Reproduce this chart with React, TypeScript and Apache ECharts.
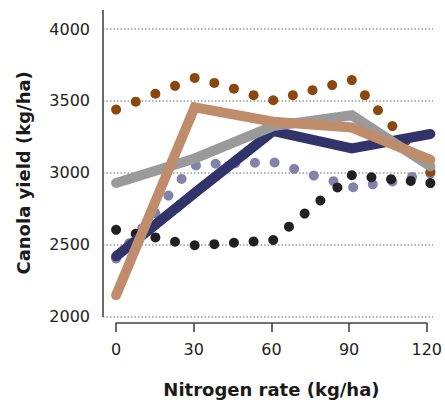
import React, { useEffect, useRef } from "react";
import * as echarts from "echarts";

// Solid lines (measured)
const lineX = [0, 30, 60, 90, 120];
const navyY = [2420, 2860, 3290, 3170, 3270];
const greyY = [2930, 3100, 3325, 3400, 3045];
const tanY = [2150, 3455, 3355, 3315, 3090];

// Dotted curves (dots as read)
const brownX = [0, 7.5, 15, 22.5, 30, 37.5, 45, 52.5, 60, 67.5, 75, 82.5, 90, 95, 100, 105.5, 110.5, 115.5, 120];
const brownY = [3440, 3495, 3550, 3605, 3660, 3625, 3585, 3540, 3505, 3540, 3575, 3610, 3645, 3540, 3435, 3325, 3220, 3105, 3008];

const lavX = [0, 5, 10, 15, 20, 25, 30.5, 38, 45.5, 53, 60.5, 68, 75.5, 83, 90.5, 98, 105.5, 113, 120];
const lavY = [2405, 2510, 2615, 2720, 2842, 2958, 3051, 3063, 3067, 3070, 3072, 3028, 2981, 2942, 2900, 2920, 2940, 2972, 2995];

const blackX = [0, 7.5, 15, 22.5, 30, 37.5, 45, 52.5, 60, 66, 72, 78, 84.5, 90, 97.5, 105, 112.5, 120];
const blackY = [2604, 2576, 2551, 2521, 2497, 2504, 2514, 2523, 2533, 2626, 2717, 2808, 2898, 2984, 2969, 2956, 2944, 2929];

const xTicks = [0, 30, 60, 90, 120];
const yTicks = [2000, 2500, 3000, 3500, 4000];

const xTitle = "Nitrogen rate (kg/ha)";
const yTitle = "Canola yield (kg/ha)";

const FONT = "DejaVu Sans";

const zip = (xs: number[], ys: number[]) => xs.map((x, i) => [x, ys[i]]);

export default function App() {
  const ref = useRef<HTMLDivElement>(null);
  useEffect(() => {
    if (!ref.current) return;
    const chart = echarts.init(ref.current, null, { renderer: "svg" });
    const lineSeries = (name: string, ys: number[], color: string) => ({
      name,
      type: "line",
      xAxisIndex: 0,
      yAxisIndex: 0,
      data: zip(lineX, ys),
      symbol: "none",
      lineStyle: { color, width: 10, cap: "round", join: "miter" },
      silent: true,
    });
    const dotSeries = (name: string, xs: number[], ys: number[], color: string) => ({
      name,
      type: "scatter",
      xAxisIndex: 0,
      yAxisIndex: 0,
      data: zip(xs, ys),
      symbol: "circle",
      symbolSize: 10,
      itemStyle: { color, opacity: 1 },
      silent: true,
    });
    chart.setOption({
      animation: false,
      backgroundColor: "#ffffff",
      grid: [
        { left: 103, right: 12, top: 29, bottom: 86.3, containLabel: false },
        { left: 116.1, right: 14.6, top: 29, bottom: 86.3, containLabel: false },
      ],
      xAxis: [
        { type: "value", gridIndex: 0, min: -5, max: 121, show: false },
        {
          type: "value",
          gridIndex: 1,
          min: xTicks[0],
          max: xTicks[xTicks.length - 1],
          interval: 30,
          offset: 9.3,
          position: "bottom",
          axisLine: { show: true, lineStyle: { color: "#444", width: 1.6 } },
          axisTick: { show: true, inside: false, length: 9, lineStyle: { color: "#444", width: 1.6 } },
          splitLine: { show: false },
          axisLabel: {
            fontFamily: FONT,
            fontSize: 16,
            color: "#222",
            margin: 18,
            formatter: (v: number) => String(v),
          },
          name: xTitle,
          nameLocation: "middle",
          nameGap: 57,
          nameTextStyle: { fontFamily: FONT, fontSize: 18, fontWeight: "bold", color: "#1a1a1a" },
        },
      ],
      yAxis: [
        {
          type: "value",
          gridIndex: 0,
          min: yTicks[0],
          max: yTicks[yTicks.length - 1],
          interval: 500,
          axisLine: { show: false },
          axisTick: { show: false },
          splitLine: { show: true, lineStyle: { color: "#999", width: 1.5, type: [1.5, 2] } },
          axisLabel: {
            fontFamily: FONT,
            fontSize: 16,
            color: "#222",
            margin: 13,
            formatter: (v: number) => String(v),
          },
          name: yTitle,
          nameLocation: "middle",
          nameGap: 71,
          nameRotate: 90,
          nameTextStyle: { fontFamily: FONT, fontSize: 18, fontWeight: "bold", color: "#1a1a1a" },
        },
        { type: "value", gridIndex: 1, min: 2000, max: 4000, show: false },
      ],
      graphic: [
        {
          type: "line",
          shape: { x1: 103, y1: 10, x2: 103, y2: 317 },
          style: { stroke: "#6b6b6b", lineWidth: 2 },
          z: 5,
        },
      ],
      series: [
        lineSeries("navy", navyY, "#33336b"),
        dotSeries("lavender", lavX, lavY, "#8282ab"),
        lineSeries("grey", greyY, "#9a9a9a"),
        lineSeries("tan", tanY, "#bf8d6b"),
        dotSeries("black", blackX, blackY, "#221f20"),
        dotSeries("brown", brownX, brownY, "#8c470e"),
      ],
    });
    return () => chart.dispose();
  }, []);
  return (
    <div
      ref={ref}
      style={{ position: "fixed", left: 0, top: 0, width: 445, height: 403 }}
    />
  );
}
